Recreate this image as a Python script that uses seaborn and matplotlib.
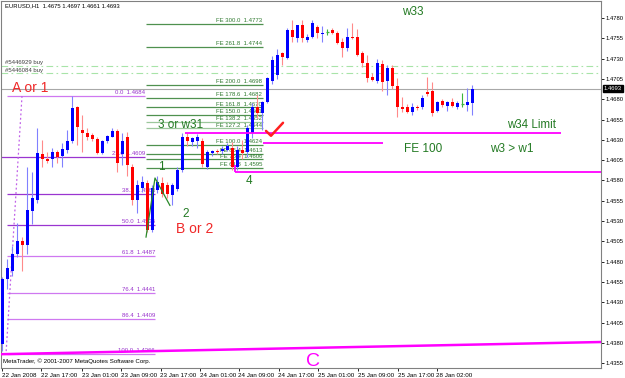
import numpy as np
import pandas as pd
import matplotlib
matplotlib.use("Agg")
import matplotlib.pyplot as plt
import matplotlib.transforms as mtransforms
import seaborn as sns

# ---------------- data ----------------
opens = [1.4378, 1.4458, 1.4469, 1.4489, 1.4506, 1.4501, 1.4542, 1.4556, 1.4612, 1.4607,
         1.4606, 1.4615, 1.4610, 1.4617, 1.4628, 1.4671, 1.4642, 1.4639, 1.4636, 1.4631,
         1.4614, 1.4628, 1.4634, 1.4641, 1.4612, 1.4633, 1.4597, 1.4556, 1.4571, 1.4577,
         1.4519, 1.4568, 1.4577, 1.4574, 1.4562, 1.4569, 1.4593, 1.4634, 1.4627, 1.4628,
         1.4628, 1.4597, 1.4614, 1.4616, 1.4616, 1.4618, 1.4620, 1.4597, 1.4618, 1.4615,
         1.4638, 1.4671, 1.4663, 1.4677, 1.4703, 1.4710, 1.4737, 1.4731, 1.4765, 1.4755,
         1.4771, 1.4753, 1.4757, 1.4769, 1.4760, 1.4763, 1.4765, 1.4762, 1.4751, 1.4743,
         1.4757, 1.4757, 1.4737, 1.4725, 1.4707, 1.4703, 1.4724, 1.4702, 1.4719, 1.4696,
         1.4671, 1.4671, 1.4664, 1.4671, 1.4670, 1.4689, 1.4690, 1.4666, 1.4678, 1.4672,
         1.4676, 1.4671, 1.4674, 1.4673, 1.4675]
highs = [1.4461, 1.4483, 1.4499, 1.4528, 1.4510, 1.4597, 1.4590, 1.4645, 1.4630, 1.4615,
         1.4620, 1.4617, 1.4626, 1.4642, 1.4684, 1.4672, 1.4660, 1.4645, 1.4639, 1.4633,
         1.4630, 1.4636, 1.4645, 1.4643, 1.4639, 1.4640, 1.4600, 1.4580, 1.4585, 1.4580,
         1.4574, 1.4586, 1.4584, 1.4578, 1.4577, 1.4596, 1.4639, 1.4639, 1.4633, 1.4637,
         1.4632, 1.4618, 1.4617, 1.4619, 1.4622, 1.4626, 1.4627, 1.4623, 1.4630, 1.4648,
         1.4675, 1.4685, 1.4678, 1.4708, 1.4733, 1.4742, 1.4738, 1.4768, 1.4778, 1.4772,
         1.4777, 1.4760, 1.4778, 1.4772, 1.4770, 1.4767, 1.4768, 1.4764, 1.4755, 1.4768,
         1.4774, 1.4766, 1.4740, 1.4735, 1.4712, 1.4730, 1.4728, 1.4722, 1.4722, 1.4706,
         1.4683, 1.4674, 1.4675, 1.4673, 1.4685, 1.4707, 1.4701, 1.4678, 1.4680, 1.4678,
         1.4682, 1.4678, 1.4688, 1.4694, 1.4697]
lows = [1.4370, 1.4446, 1.4462, 1.4486, 1.4469, 1.4489, 1.4526, 1.4552, 1.4596, 1.4602,
        1.4596, 1.4601, 1.4597, 1.4614, 1.4626, 1.4624, 1.4615, 1.4630, 1.4628, 1.4613,
        1.4613, 1.4626, 1.4634, 1.4591, 1.4599, 1.4585, 1.4550, 1.4540, 1.4566, 1.4516,
        1.4516, 1.4565, 1.4560, 1.4558, 1.4550, 1.4567, 1.4590, 1.4622, 1.4623, 1.4620,
        1.4597, 1.4594, 1.4610, 1.4612, 1.4612, 1.4616, 1.4593, 1.4593, 1.4607, 1.4609,
        1.4632, 1.4657, 1.4642, 1.4675, 1.4699, 1.4705, 1.4722, 1.4729, 1.4751, 1.4750,
        1.4750, 1.4750, 1.4755, 1.4755, 1.4750, 1.4759, 1.4760, 1.4748, 1.4732, 1.4740,
        1.4754, 1.4733, 1.4720, 1.4701, 1.4702, 1.4700, 1.4690, 1.4685, 1.4693, 1.4658,
        1.4664, 1.4663, 1.4660, 1.4667, 1.4668, 1.4684, 1.4659, 1.4664, 1.4671, 1.4666,
        1.4670, 1.4668, 1.4670, 1.4665, 1.4661]
closes = [1.4458, 1.4472, 1.4490, 1.4506, 1.4500, 1.4544, 1.4558, 1.4614, 1.4607, 1.4604,
          1.4615, 1.4609, 1.4619, 1.4628, 1.4669, 1.4646, 1.4638, 1.4634, 1.4631, 1.4614,
          1.4628, 1.4635, 1.4641, 1.4602, 1.4628, 1.4599, 1.4556, 1.4575, 1.4578, 1.4519,
          1.4571, 1.4578, 1.4563, 1.4563, 1.4575, 1.4593, 1.4634, 1.4628, 1.4632, 1.4633,
          1.4600, 1.4615, 1.4616, 1.4615, 1.4619, 1.4622, 1.4597, 1.4618, 1.4614, 1.4645,
          1.4671, 1.4663, 1.4677, 1.4706, 1.4728, 1.4735, 1.4732, 1.4765, 1.4757, 1.4771,
          1.4755, 1.4757, 1.4774, 1.4762, 1.4762, 1.4763, 1.4762, 1.4749, 1.4743, 1.4757,
          1.4755, 1.4735, 1.4725, 1.4706, 1.4704, 1.4725, 1.4701, 1.4719, 1.4696, 1.4671,
          1.4668, 1.4664, 1.4671, 1.4669, 1.4681, 1.4686, 1.4663, 1.4677, 1.4673, 1.4676,
          1.4672, 1.4675, 1.4674, 1.4676, 1.4693]

xtick_pos = [0, 7.8, 15.9, 23.8, 31.7, 39.5, 47.3, 55.3, 63.1, 71.1, 79.1, 86.9]
xtick_labels = ["22 Jan 2008", "22 Jan 17:00", "23 Jan 01:00", "23 Jan 09:00",
                "23 Jan 17:00", "24 Jan 01:00", "24 Jan 09:00", "24 Jan 17:00",
                "25 Jan 01:00", "25 Jan 09:00", "25 Jan 17:00", "28 Jan 02:00"]
ytick_vals = [1.4355, 1.4380, 1.4405, 1.4430, 1.4455, 1.4480, 1.4505, 1.4530, 1.4555,
              1.4580, 1.4605, 1.4630, 1.4655, 1.4680, 1.4705, 1.4730, 1.4755, 1.4780]

fib_names = ["0.0", "23.6", "38.2", "50.0", "61.8", "76.4", "86.4", "100.0"]
fib_prices = [1.4684, 1.4609, 1.4563, 1.4525, 1.4487, 1.4441, 1.4409, 1.4366]
fe_names = ["61.8", "76.4", "86.4", "100.0", "127.2", "138.2", "150.0", "161.8",
            "178.6", "200.0", "261.8", "300.0"]
fe_prices = [1.4595, 1.4606, 1.4613, 1.4624, 1.4644, 1.4652, 1.4661, 1.4670,
             1.4682, 1.4698, 1.4744, 1.4773]
order_names = ["#5446929 buy", "#5446084 buy"]
order_prices = [1.4721, 1.4712]
last_price = 1.4693
header = "EURUSD,H1  1.4675 1.4697 1.4661 1.4693"
limit_w34 = 1.4639
fe100_line = 1.4626
w4_line = 1.4591
c_trend = [1.4366, 1.4381]
zigzag_price = [1.4510, 1.4583, 1.4549]

df = pd.DataFrame({"o": opens, "h": highs, "l": lows, "c": closes})
df["i"] = np.arange(len(df))

# ---------------- style ----------------
sns.set_theme(style="white")
plt.rcParams["font.family"] = ["Liberation Sans", "DejaVu Sans"]

fig = plt.figure(figsize=(6.25, 3.78), dpi=100)
fig.patch.set_facecolor("white")
ax = fig.add_axes([1 / 625, 10 / 378, 600 / 625, 367 / 378])
ax.set_facecolor("white")
XMIN, XMAX = -0.2, 119.8
ax.set_xlim(XMIN, XMAX)
ax.set_ylim(1.4349, 1.4801)

for s in ax.spines.values():
    s.set_color("#808080")
    s.set_linewidth(0.8)

# ---------------- horizontal objects ----------------
ax.axhline(last_price, color="#a8a8a8", lw=0.8, zorder=1)
for nm, pr in zip(order_names, order_prices):
    ax.axhline(pr, color="#a8e4a8", lw=0.8, ls=(0, (6, 3, 1.5, 3)), zorder=1)
    ax.text(0.6, pr + 0.00008, nm, fontsize=4.3, color="#404040", ha="left", va="bottom")

# Fibonacci retracement
for k, (nm, pr) in enumerate(zip(fib_names, fib_prices)):
    x0 = -0.2 if k == 1 else 1.0
    x1 = 28.6 if k < 2 else 30.6
    col = "#9a35d0" if k in (1, 2, 3) else "#cf78f0"
    ax.hlines(pr, x0, x1, color=col, lw=0.9, zorder=1)
    ax.text(x1, pr + 0.00012, f"{nm}  {pr:.4f}", fontsize=4.3, color="#9933cc",
            ha="right", va="bottom", zorder=2)
ax.plot([4.0, 0.8], [fib_prices[0], fib_prices[-1]], color="#c060e8", lw=0.9,
        ls=(0, (1.5, 2)), zorder=1)

# Fibonacci expansion
for nm, pr in zip(fe_names, fe_prices):
    col = "#9cc79c" if nm in ("127.2", "138.2") else "#4f914f"
    ax.hlines(pr, 28.8, 52.2, color=col, lw=0.9, zorder=1)
    ax.text(52.0, pr + 0.0001, f"FE {nm}  {pr:.4f}", fontsize=4.3, color="#2f7a2f",
            ha="right", va="bottom", zorder=2)

# ---------------- candles ----------------
doji = df["o"] == df["c"]
up = (df["c"] > df["o"])
wick_cols = np.where(doji, "#3cb43c", np.where(up, "#8080ff", "#ff8a8a"))
ax.vlines(df["i"], df["l"], df["h"], colors=wick_cols, lw=0.8, zorder=3)
body_cols = np.where(up, "#0000ff", "#ff0000")
nd = ~doji
ax.bar(df["i"][nd], (df["c"] - df["o"])[nd], bottom=df["o"][nd], width=0.6,
       color=body_cols[nd.values], linewidth=0, zorder=4)
ax.hlines(df["o"][doji], df["i"][doji] - 0.3, df["i"][doji] + 0.3, color="#3cb43c",
          lw=0.9, zorder=4)

# ---------------- magenta lines ----------------
mag = "#ff00ff"
ax.hlines(limit_w34, 36.6, 111.8, color=mag, lw=1.3, zorder=5)
ax.hlines(fe100_line, 52.2, 76.2, color=mag, lw=1.3, zorder=5)
ax.hlines(w4_line, 46.6, XMAX, color=mag, lw=1.3, zorder=5)
ax.vlines(46.6, w4_line, w4_line + 0.0008, color=mag, lw=1.3, zorder=5)
sns.lineplot(x=[XMIN, XMAX], y=c_trend, ax=ax, color=mag, lw=1.8, zorder=5,
             sort=False, estimator=None)

# green zigzag & red check
sns.lineplot(x=[28.8, 30.6, 33.6], y=zigzag_price, ax=ax, color="#2a8a2a", lw=0.9,
             zorder=6, sort=False, estimator=None)
ax.plot([52.8, 53.8, 56.2], [1.4641, 1.4635, 1.4651], color="#ff2020", lw=1.8,
        zorder=6, solid_capstyle="round", solid_joinstyle="round")

# ---------------- annotations ----------------
red = "#f02828"
grn = "#237a23"
ax.text(2.0, 1.4689, "A or 1", fontsize=10, color=red, va="baseline", zorder=7)
ax.text(34.8, 1.4515, "B or 2", fontsize=10, color=red, va="baseline", zorder=7)
ax.text(60.8, 1.4352, "C", fontsize=14, color=mag, va="baseline", zorder=7)
ax.text(80.0, 1.4784, "w33", fontsize=8.5, color=grn, va="baseline", zorder=7)
ax.text(101.0, 1.4645, "w34 Limit", fontsize=8.3, color=grn, va="baseline", zorder=7)
ax.text(80.4, 1.4615, "FE 100", fontsize=8.5, color=grn, va="baseline", zorder=7)
ax.text(97.6, 1.4615, "w3 > w1", fontsize=8.5, color=grn, va="baseline", zorder=7)
ax.text(31.2, 1.4645, "3 or w31", fontsize=8.5, color=grn, va="baseline", zorder=7)
ax.text(31.2, 1.4593, "1", fontsize=8.5, color=grn, va="baseline", zorder=7)
ax.text(36.0, 1.4535, "2", fontsize=8.5, color=grn, va="baseline", zorder=7)
ax.text(48.8, 1.4575, "4", fontsize=8.5, color=grn, va="baseline", zorder=7)

ax.text(0.006, 0.993, header, transform=ax.transAxes, fontsize=4.2, color="black",
        ha="left", va="top", zorder=8)
ax.text(0.003, 0.012, "MetaTrader, \u00a9 2001-2007 MetaQuotes Software Corp.",
        transform=ax.transAxes, fontsize=4.4, color="black", ha="left", va="bottom",
        zorder=8)

# ---------------- axes ticks ----------------
ax.yaxis.tick_right()
ax.set_yticks(ytick_vals)
ax.set_yticklabels([f"{v:.4f}" for v in ytick_vals])
ax.tick_params(axis="y", direction="out", length=2.5, width=0.6, labelsize=4.2, pad=1,
               colors="black", right=True, left=False)
ax.set_xticks(xtick_pos)
ax.set_xticklabels(xtick_labels, ha="left")
ax.tick_params(axis="x", direction="out", length=2.5, width=0.6, labelsize=4.5, pad=1,
               colors="black", bottom=True)
for lab in ax.get_xticklabels():
    lab.set_horizontalalignment("left")

trans = mtransforms.blended_transform_factory(ax.transAxes, ax.transData)
ax.text(1.005, last_price, f"{last_price:.4f}", transform=trans, fontsize=4.2,
        color="white", ha="left", va="center", zorder=9,
        bbox=dict(boxstyle="square,pad=0.15", fc="black", ec="black"))

ax.grid(False)
fig.savefig("out.png", dpi=100, facecolor="white")
